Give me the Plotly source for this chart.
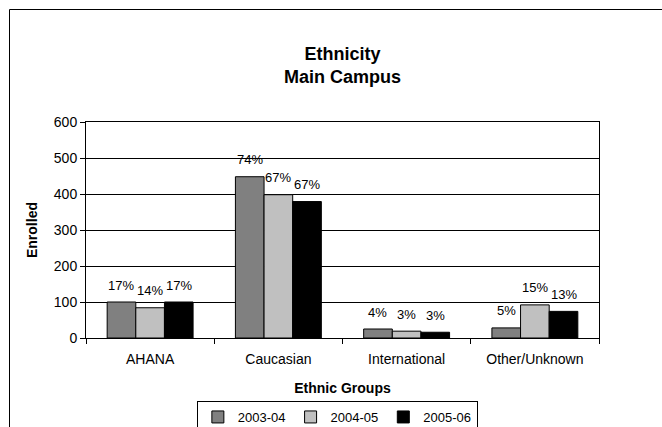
import plotly.graph_objects as go

categories = ["AHANA", "Caucasian", "International", "Other/Unknown"]
series_names = ["2003-04", "2004-05", "2005-06"]
enrolled_2003 = [100, 448, 25, 28]
enrolled_2004 = [84, 398, 19, 92]
enrolled_2005 = [100, 379, 16, 74]
pct_2003 = ["17%", "74%", "4%", "5%"]
pct_2004 = ["14%", "67%", "3%", "15%"]
pct_2005 = ["17%", "67%", "3%", "13%"]
y_ticks = [0, 100, 200, 300, 400, 500, 600]

values = [enrolled_2003, enrolled_2004, enrolled_2005]
pcts = [pct_2003, pct_2004, pct_2005]
colors = ["#808080", "#C0C0C0", "#000000"]

FONT = "Arial, Liberation Sans, sans-serif"
W, H = 662, 427
ML, MR, MT, MB = 86, 63, 122, 89
plot_w = W - ML - MR
plot_h = H - MT - MB
bargap = 0.33
bar_px = plot_w / len(categories) * (1 - bargap) / len(series_names)

fig = go.Figure()
for name, vals, col in zip(series_names, values, colors):
    fig.add_trace(go.Bar(
        x=categories, y=vals, name=name,
        marker=dict(color=col, line=dict(color="#000000", width=1)),
    ))

annotations = []
for i, (vals, labels) in enumerate(zip(values, pcts)):
    for cat, v, lab in zip(categories, vals, labels):
        annotations.append(dict(
            x=cat, y=v, xref="x", yref="y", text=lab, showarrow=False,
            xshift=(i - 1) * bar_px, yshift=17, yanchor="middle",
            font=dict(family=FONT, size=13, color="#000000"),
        ))

def px_to_paper_x(px):
    return (px - ML) / plot_w

def px_to_paper_y(py):
    return (H - MB - py) / plot_h

fig.update_layout(
    width=W, height=H,
    margin=dict(l=ML, r=MR, t=MT, b=MB, pad=0, autoexpand=False),
    paper_bgcolor="white", plot_bgcolor="white",
    font=dict(family=FONT, size=14, color="#000000"),
    barmode="group", bargap=bargap, bargroupgap=0,
    title=dict(
        text="<b>Ethnicity</b><br><b>Main Campus</b>",
        x=0.5, xref="paper", xanchor="center",
        y=1 - 60 / H, yref="container", yanchor="middle",
        font=dict(family=FONT, size=18, color="#000000"),
    ),
    xaxis=dict(
        showline=True, linecolor="#000000", linewidth=1, mirror=True,
        ticks="outside", tickson="boundaries", ticklen=5, tickcolor="#000000",
        tickfont=dict(family=FONT, size=14), ticklabelstandoff=8,
        title=dict(text="<b>Ethnic Groups</b>", font=dict(family=FONT, size=14), standoff=17),
    ),
    yaxis=dict(
        range=[0, 600], tickvals=y_ticks,
        showline=True, linecolor="#000000", linewidth=1, mirror=True,
        ticks="outside", ticklen=5, tickcolor="#000000",
        showgrid=True, gridcolor="#000000", gridwidth=1, zeroline=False,
        tickfont=dict(family=FONT, size=14),
        title=dict(text="<b>Enrolled</b>", font=dict(family=FONT, size=14), standoff=12),
    ),
    legend=dict(
        orientation="h", x=0.49, xanchor="center",
        y=px_to_paper_y(401), yanchor="top",
        bordercolor="#000000", borderwidth=1, bgcolor="white",
        font=dict(family=FONT, size=13), itemwidth=30,
        tracegroupgap=0,
    ),
    annotations=annotations,
    showlegend=True,
    shapes=[dict(
        type="rect", xref="paper", yref="paper",
        x0=px_to_paper_x(9.5), x1=px_to_paper_x(W + 20),
        y0=px_to_paper_y(H + 20), y1=px_to_paper_y(9.5),
        line=dict(color="#000000", width=1), fillcolor="rgba(0,0,0,0)",
        layer="below",
    )],
)

fig.write_html("out.html")
